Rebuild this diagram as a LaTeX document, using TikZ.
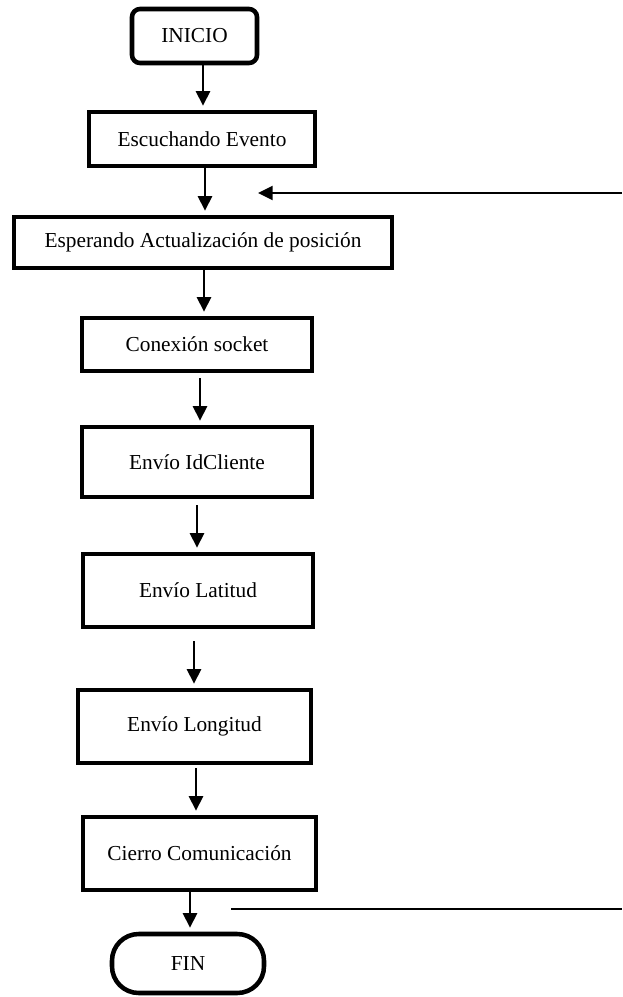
\documentclass[tikz,border=0pt]{standalone}
\usepackage{fontspec}
\setmainfont{Liberation Serif}
\usetikzlibrary{arrows.meta,calc}

\begin{document}
\begin{tikzpicture}[
    x=0.75pt, y=-0.75pt,
    base/.style={draw=black, line width=3.4pt, inner sep=0pt, align=center,
      font=\fontsize{16}{19}\selectfont},
    size/.style 2 args={minimum width=#1*0.75pt, minimum height=#2*0.75pt},
    stepbox/.style={base},
    terminal/.style={base, rounded corners=6pt},
    endcap/.style={base, rounded corners=20pt},
    arr/.style={line width=2.2pt, -{Triangle[length=11pt, width=10.5pt]},
      shorten >=3pt},
    fbline/.style={line width=1.6pt},
  ]
  \useasboundingbox (0,0) rectangle (622,997);

  % process chain
  \node[terminal, size={125}{54}] (inicio)   at (194.5,36)    {INICIO};
  \node[stepbox, size={226}{54}]  (escucha)  at (202,139)     {Escuchando Evento};
  \node[stepbox, size={378}{51}]  (espera)   at (203,242.5)   {Esperando Actualización de posición};
  \node[stepbox, size={230}{53}]  (socket)   at (197,344.5)   {Conexión socket};
  \node[stepbox, size={230}{70}]  (idcli)    at (197,462)     {Envío IdCliente};
  \node[stepbox, size={230}{73}]  (lat)      at (198,590.5)   {Envío Latitud};
  \node[stepbox, size={233}{73}]  (lon)      at (194.5,726.5) {Envío Longitud};
  \node[stepbox, size={233}{73}]  (cierre)   at (199.5,853.5) {Cierro Comunicación};
  \node[endcap, size={152}{59}]   (fin)      at (188,963.5)   {FIN};

  % downward flow
  \draw[arr] ($(inicio.south)+(8.5,0)$)  -- ($(escucha.north)+(1,0)$);
  \draw[arr] ($(escucha.south)+(3,0)$)   -- ($(espera.north)+(2,0)$);
  \draw[arr] ($(espera.south)+(1,0)$)    -- ($(socket.north)+(7,0)$);
  \draw[arr] ($(socket.south)+(3,5)$)    -- ($(idcli.north)+(3,0)$);
  \draw[arr] ($(idcli.south)+(0,6)$)     -- ($(lat.north)+(-1,0)$);
  \draw[arr] ($(lat.south)+(-4,12)$)     -- ($(lon.north)+(-0.5,0)$);
  \draw[arr] ($(lon.south)+(1.5,3)$)     -- ($(cierre.north)+(-3.5,0)$);
  \draw[arr] ($(cierre.south)+(-9.5,0)$) -- ($(fin.north)+(2,0)$);

  % loop back into the waiting state
  \coordinate (fbin)  at (622,193);
  \coordinate (fbout) at (258,193);
  \draw[fbline, -{Triangle[length=11pt, width=10.5pt]}] (fbin) -- (fbout);

  % return line leaving the end of the chain
  \coordinate (retA) at (231,909);
  \coordinate (retB) at (622,909);
  \draw[fbline] (retA) -- (retB);
\end{tikzpicture}
\end{document}
